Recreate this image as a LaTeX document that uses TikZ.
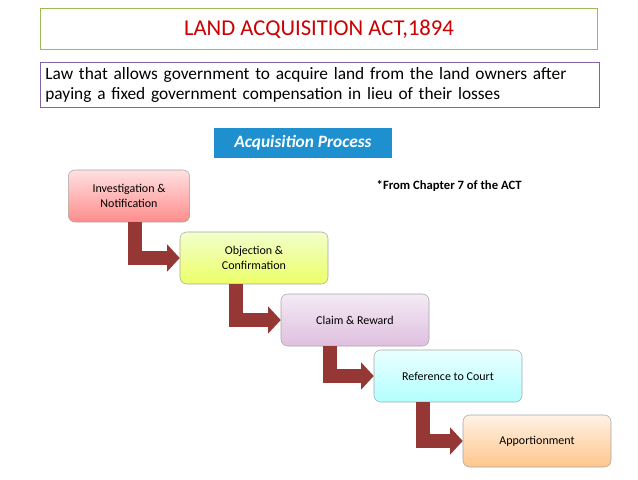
\documentclass[tikz,border=0pt]{standalone}
\usepackage{fontspec}
\setmainfont{Carlito}
\usetikzlibrary{arrows.meta,calc}
\definecolor{arr}{HTML}{953735}
\definecolor{tgreen}{HTML}{9BBB59}
\definecolor{dpurple}{HTML}{8064A2}
\definecolor{pblue}{HTML}{1E90D0}
\tikzset{
 x=0.75pt,y=-0.75pt,
 stepbox/.style={draw=gray!70,rounded corners=5pt,minimum width=111pt,minimum height=39pt,align=center,font=\fontsize{9pt}{11pt}\selectfont,inner sep=2pt},
 bigarrow/.style={draw=arr!80!black,line width=10.5pt,color=arr,line join=miter,-{Triangle[length=9.5pt,width=20pt]}},
}
\begin{document}
\begin{tikzpicture}
\useasboundingbox (0,0) rectangle (638,479);
\fill[white] (0,0) rectangle (638,479);
\node[draw=tgreen,line width=1pt,minimum width=418pt,minimum height=31pt,text=red!80!black,font=\fontsize{17pt}{20pt}\selectfont] (title) at (319,29) {LAND ACQUISITION ACT,1894};
\node[draw=dpurple,line width=1pt,minimum width=419pt,minimum height=34pt,align=left,text width=412pt,inner sep=3pt,font=\fontsize{13pt}{15pt}\selectfont] (def) at (320,85) {Law that allows government to acquire land from the land owners after\\paying a fixed government compensation in lieu of their losses};
\node[fill=pblue,text=white,minimum width=133pt,minimum height=23pt,font=\bfseries\itshape\fontsize{13pt}{15pt}\selectfont] (proc) at (303,143) {Acquisition Process};
\node[font=\bfseries\fontsize{9.5pt}{11pt}\selectfont,anchor=west] (note) at (372,186) {*From Chapter 7 of the ACT};
\node[stepbox,top color=red!12,bottom color=red!45,minimum width=91pt] (b1) at (129,196) {Investigation \&\\Notification};
\node[stepbox,top color=lime!20,bottom color=lime!50!yellow!60] (b2) at (254,258) {Objection \&\\Confirmation};
\node[stepbox,top color=violet!8,bottom color=violet!25] (b3) at (355,320) {Claim \& Reward};
\node[stepbox,top color=cyan!8,bottom color=cyan!30] (b4) at (448,376) {Reference to Court};
\node[stepbox,top color=orange!10,bottom color=orange!45] (b5) at (537,441) {Apportionment};
\draw[bigarrow] ($(b1.south west)+(67,0)$) |- (b2.west);
\draw[bigarrow] ($(b2.south west)+(56,0)$) |- (b3.west);
\draw[bigarrow] ($(b3.south west)+(49,0)$) |- (b4.west);
\draw[bigarrow] ($(b4.south west)+(49,0)$) |- (b5.west);
\end{tikzpicture}
\end{document}
